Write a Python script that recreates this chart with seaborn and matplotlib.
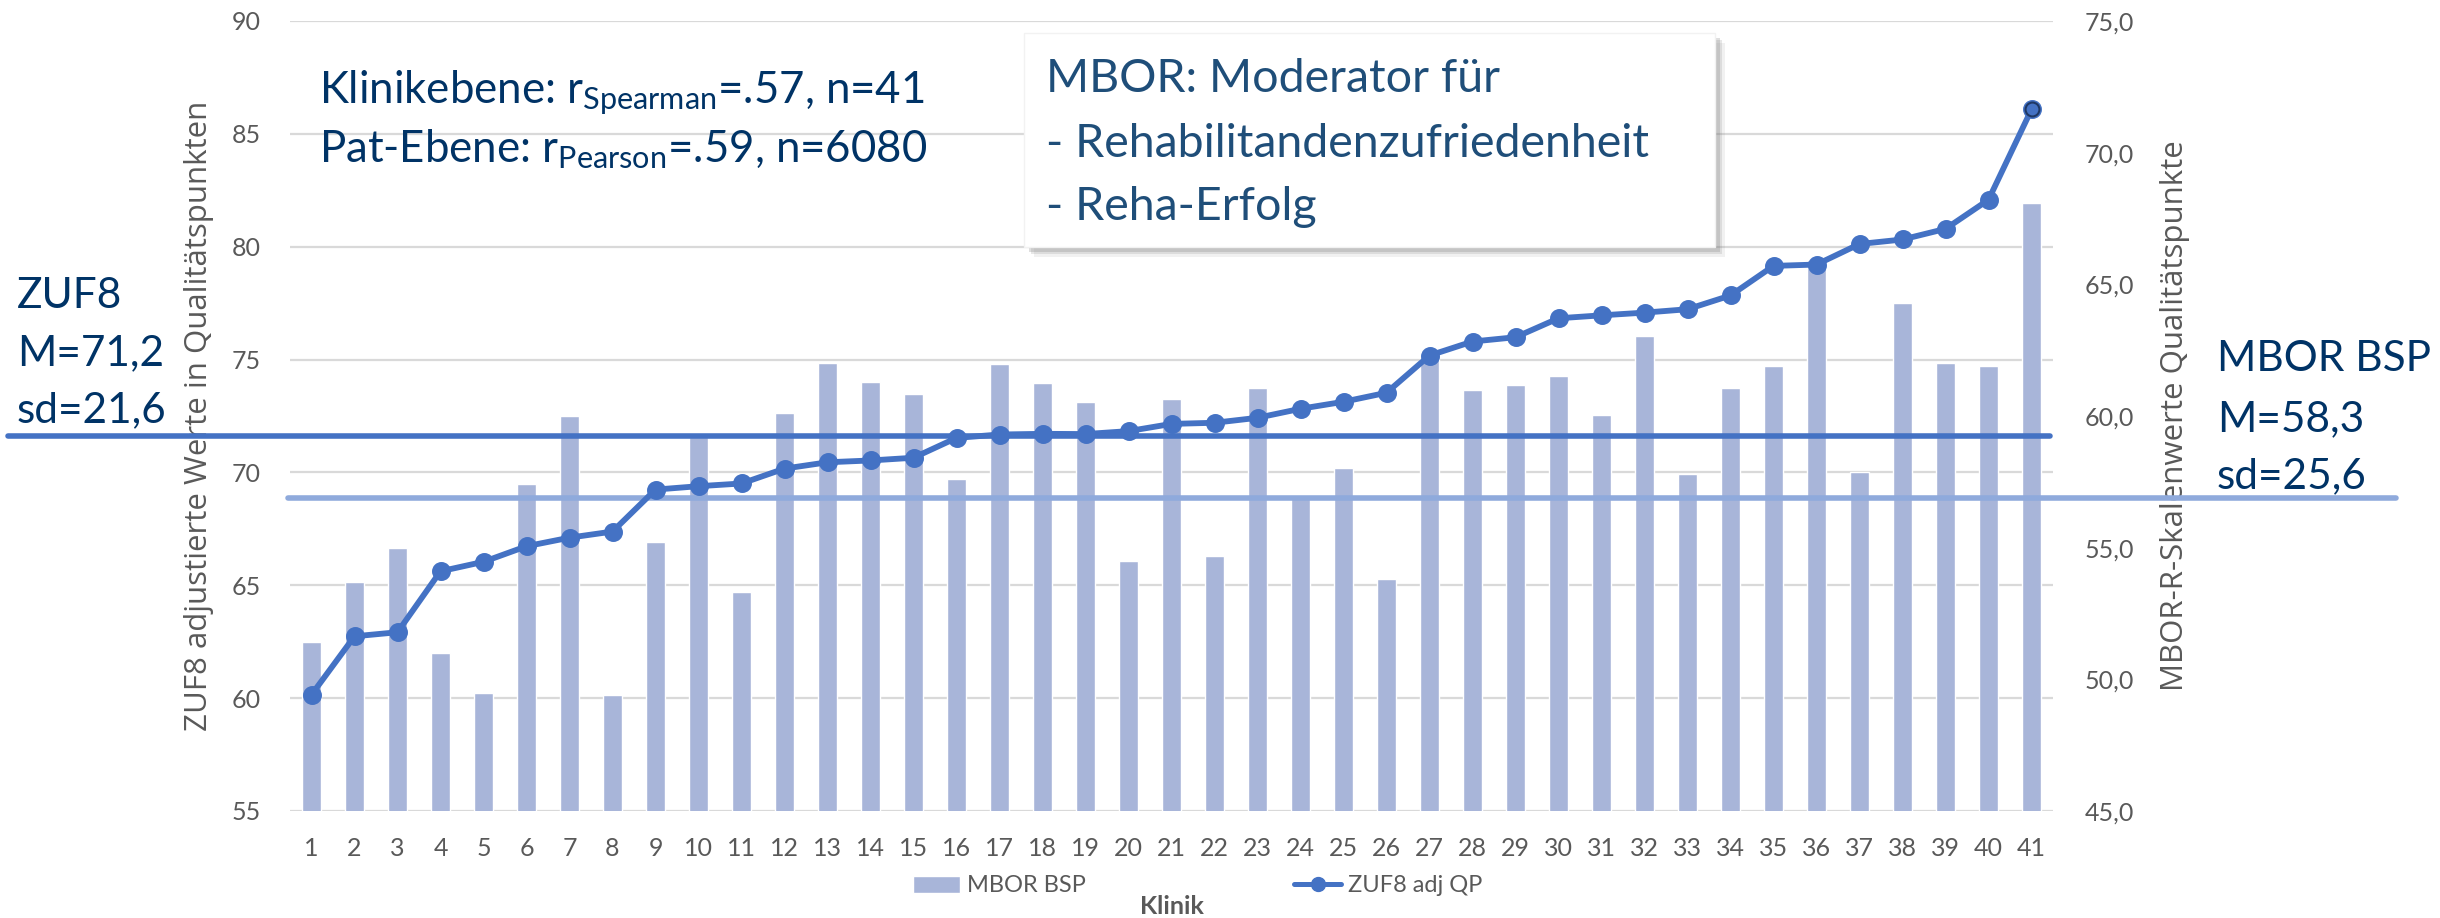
import numpy as np
import pandas as pd
import seaborn as sns
import matplotlib.pyplot as plt
from matplotlib.patches import Patch, Rectangle
from matplotlib.lines import Line2D

# data
klinik = [str(i) for i in range(1, 42)]
zuf8_adj_qp = [60.15, 62.74, 62.92, 65.62, 66.04, 66.73, 67.11, 67.38, 69.24, 69.39,
               69.51, 70.17, 70.45, 70.53, 70.65, 71.53, 71.68, 71.71, 71.70, 71.83,
               72.15, 72.20, 72.42, 72.82, 73.13, 73.53, 75.18, 75.80, 75.99, 76.83,
               76.96, 77.08, 77.23, 77.84, 79.15, 79.21, 80.12, 80.32, 80.79, 82.08,
               86.08]
mbor_bsp = [51.4, 53.7, 55.0, 51.0, 49.5, 57.4, 60.0, 49.4, 55.2, 59.2,
            53.3, 60.1, 62.0, 61.3, 60.85, 57.6, 61.96, 61.27, 60.55, 54.5,
            60.66, 54.7, 61.08, 56.9, 58.03, 53.8, 62.15, 61.0, 61.18, 61.52,
            60.04, 63.02, 57.8, 61.05, 61.91, 65.92, 57.88, 64.28, 62.0, 61.91,
            68.07]
zuf8_ref_level = 71.6   # drawn mean line for ZUF8 (left axis)
mbor_ref_level = 56.9   # drawn mean line for MBOR (right axis)

BAR = "#A8B5D9"
LINE = "#4472C4"
LIGHT = "#8FAADC"
GREY = "#595959"
NAVY = "#003366"
NAVY2 = "#1F4E79"

sns.set_style("white")
plt.rcParams['font.family'] = ['Lato', 'DejaVu Sans']
plt.rcParams['mathtext.fontset'] = 'custom'
plt.rcParams['mathtext.rm'] = 'Lato'
plt.rcParams['mathtext.it'] = 'Lato:italic'
plt.rcParams['mathtext.bf'] = 'Lato:bold'

df = pd.DataFrame({"Klinik": klinik, "ZUF8 adj QP": zuf8_adj_qp, "MBOR BSP": mbor_bsp})
df["pos"] = np.arange(len(df))

W, H = 2440, 918
fig = plt.figure(figsize=(W / 100, H / 100), dpi=100)
ax = fig.add_axes([290 / W, 1 - 811 / H, 1763 / W, 790 / H])
ax2 = ax.twinx()
ax3 = ax.twinx()

# bars on the right scale
sns.barplot(data=df, x="Klinik", y="MBOR BSP", ax=ax2, color=BAR, saturation=1, width=0.42)
# line on the left scale, top layer
sns.pointplot(data=df, x="Klinik", y="ZUF8 adj QP", ax=ax3, color=LINE, markers="o",
              markersize=10.5, linewidth=4.2, errorbar=None)
last = df.iloc[-1:]
ax3.plot(last["pos"], last["ZUF8 adj QP"], "o", mfc=LINE, mec="#1F3864", mew=1.5, ms=10, zorder=6)

ax.set_xlim(-0.5, len(df) - 0.5)
ax.set_ylim(55, 90)
ax3.set_ylim(55, 90)
ax2.set_ylim(45, 75)

ax.set_yticks(range(55, 91, 5))
ax2_ticks = np.arange(45, 76, 5)
ax2.set_yticks(ax2_ticks)
ax2.set_yticklabels([f"{v:.1f}".replace(".", ",") for v in ax2_ticks])
ax.set_xticks(df["pos"])
ax.set_xticklabels(klinik)

ax.yaxis.grid(True, color="#D9D9D9", linewidth=1.6)
ax.xaxis.grid(False)
ax2.grid(False)
ax3.grid(False)
ax3.yaxis.set_visible(False)
ax3.set_xlabel("")
ax3.set_ylabel("")

for a in (ax, ax2, ax3):
    for s in a.spines.values():
        s.set_visible(False)

ax.tick_params(axis="y", length=0, pad=21, labelsize=18, labelcolor=GREY)
ax.tick_params(axis="x", length=0, pad=19, labelsize=18, labelcolor=GREY)
ax2.tick_params(axis="y", length=0, pad=23, labelsize=18, labelcolor=GREY)

ax.set_ylabel("ZUF8 adjustierte Werte in Qualitätspunkten", fontfamily="Open Sans",
              fontsize=22.5, color=GREY)
ax.yaxis.set_label_coords(-0.0515, 0.5)
ax.yaxis.label.set_va("center")
ax2.set_ylabel("MBOR-R-Skalenwerte Qualitätspunkte", fontfamily="Open Sans",
               fontsize=22.5, color=GREY, rotation=90)
ax2.yaxis.set_label_coords(1.0690, 0.5)
ax2.yaxis.label.set_va("center")
ax.set_xlabel("Klinik", fontweight="bold", fontsize=18, color=GREY)
ax.xaxis.set_label_coords(0.5, (811 - 906) / 790)
ax.xaxis.label.set_va("center")

# mean lines, drawn past the plot area like in the slide
ax3.axhline(zuf8_ref_level, xmin=(8 - 290) / 1763, xmax=(2050 - 290) / 1763,
            color=LINE, lw=4, clip_on=False, zorder=5)
ax2.axhline(mbor_ref_level, xmin=(288 - 290) / 1763, xmax=(2396 - 290) / 1763,
            color=LIGHT, lw=4, clip_on=False, zorder=3)

handles = [Patch(facecolor=BAR, label="MBOR BSP"),
           Line2D([], [], color=LINE, lw=3.6, marker="o", ms=10, label="ZUF8 adj QP")]
ax3.legend(handles=handles, loc="center", bbox_to_anchor=(0.515, (811 - 886) / 790),
           ncol=2, frameon=False, fontsize=17, labelcolor=GREY, handlelength=2.0,
           handletextpad=0.3, columnspacing=8.8)

# annotations
def ftext(x, y, s, color=NAVY, size=30.5):
    fig.text(x / W, 1 - y / H, s, color=color, fontsize=size, va="baseline", ha="left")

ftext(319, 103, r"Klinikebene: r$_{\mathrm{Spearman}}$=.57, n=41", size=31.5)
ftext(319, 162, r"Pat-Ebene: r$_{\mathrm{Pearson}}$=.59, n=6080", size=31.5)

for dx, dy, al in [(10, 10, 0.10), (7, 7, 0.18), (5, 5, 0.25)]:
    fig.add_artist(Rectangle(((1024 + dx) / W, 1 - (247 + dy) / H), 691 / W, 214 / H,
                             transform=fig.transFigure, facecolor="#7F7F7F",
                             edgecolor="none", alpha=al, zorder=8))
fig.add_artist(Rectangle((1024 / W, 1 - 247 / H), 691 / W, 214 / H,
                         transform=fig.transFigure, facecolor="white",
                         edgecolor="#F2F2F2", lw=1, zorder=9))
for yy, s in [(92, "MBOR: Moderator für"), (157, "- Rehabilitandenzufriedenheit"),
              (220, "- Reha-Erfolg")]:
    fig.text(1046 / W, 1 - yy / H, s, color=NAVY2, fontsize=33.5, va="baseline",
             ha="left", zorder=10)

for yy, s in [(308, "ZUF8"), (365, "M=71,2"), (422, "sd=21,6")]:
    ftext(17, yy, s)
for yy, s in [(371, "MBOR BSP"), (431, "M=58,3"), (488, "sd=25,6")]:
    ftext(2217, yy, s)

fig.savefig("out.png", dpi=100, facecolor="white")
